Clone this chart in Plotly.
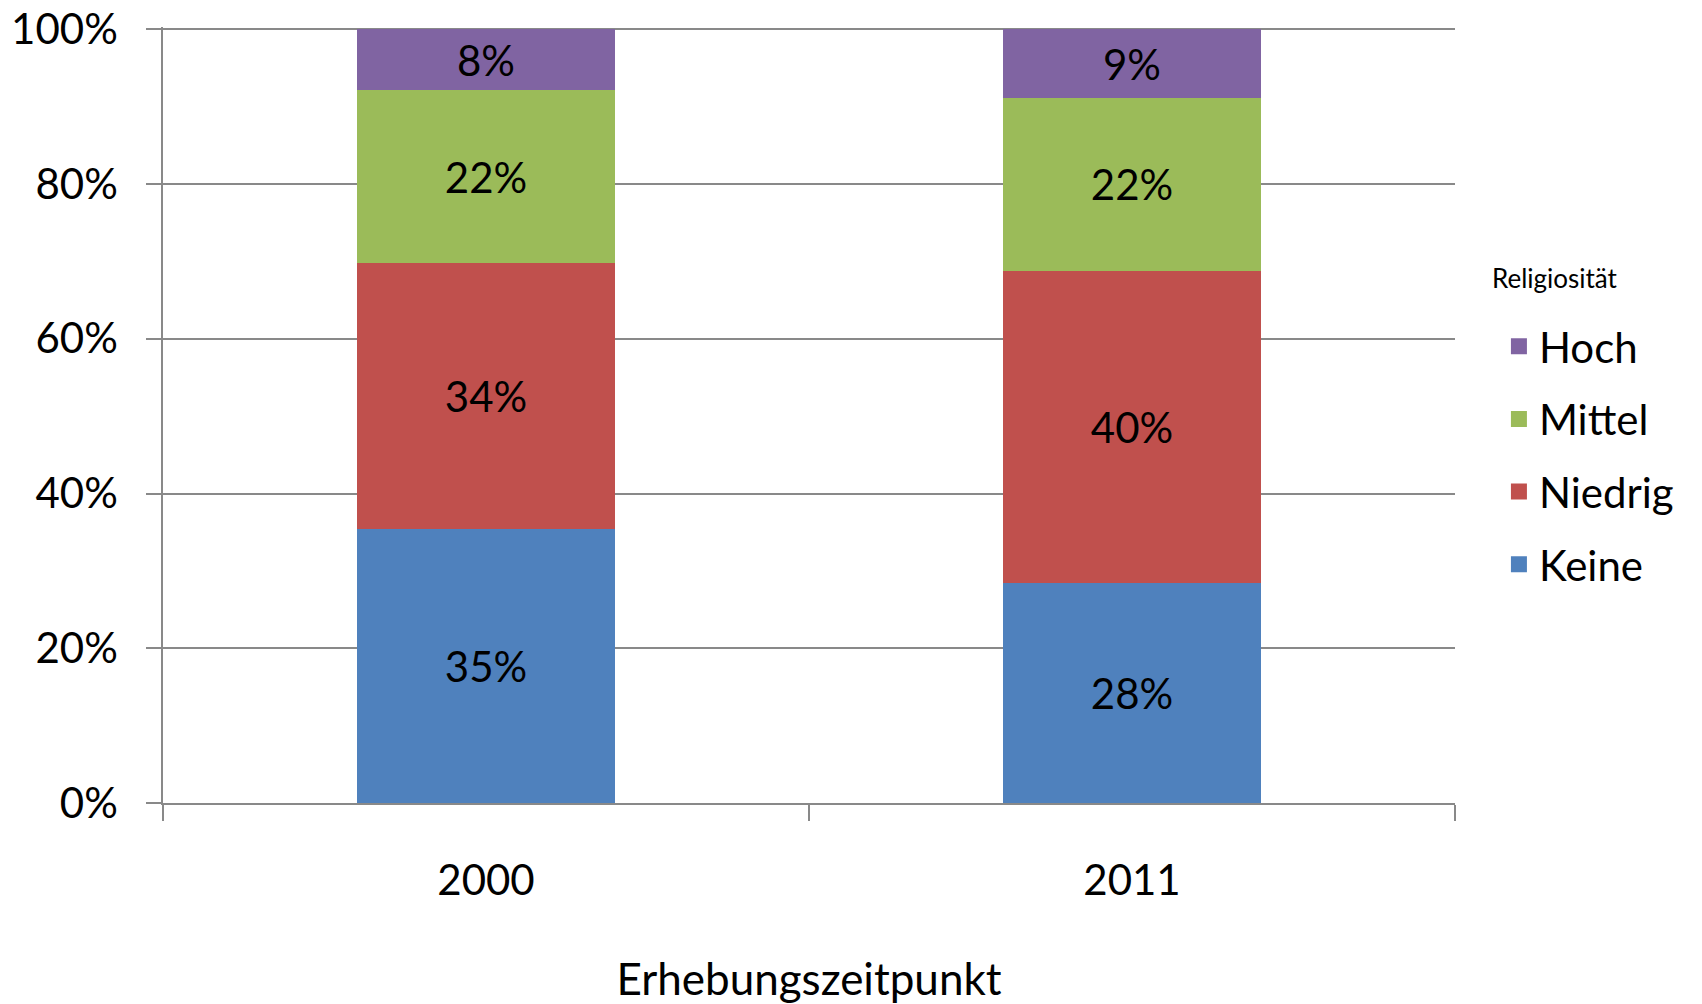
"""
Religiosität nach Erhebungszeitpunkt - gestapeltes 100%-Säulendiagramm
"""

import plotly.graph_objects as go

# Daten
jahre = ["2000", "2011"]
keine = [35.4, 28.4]
niedrig = [34.4, 40.4]
mittel = [22.3, 22.3]
hoch = [7.9, 8.9]

stufen = ["Keine", "Niedrig", "Mittel", "Hoch"]
werte = [keine, niedrig, mittel, hoch]
farben = ["#4F81BD", "#C0504D", "#9BBB59", "#8064A2"]

y_ticks = [0, 20, 40, 60, 80, 100]
y_ticktext = [f"{v}%" for v in y_ticks]

FONT = "Lato, Calibri, sans-serif"
GRAU = "#898989"

fig = go.Figure()

for name, vals, col in zip(stufen, werte, farben):
    fig.add_trace(go.Bar(
        x=jahre,
        y=vals,
        name=name,
        showlegend=False,
        marker=dict(color=col, line=dict(width=0)),
        texttemplate="%{y:.0f}%",
        textposition="inside",
        insidetextanchor="middle",
        textangle=0,
        constraintext="none",
        textfont=dict(color="black", size=42, family=FONT),
    ))

# Legende mit grösseren Quadraten (Hoch oben)
for name, col in reversed(list(zip(stufen, farben))):
    fig.add_trace(go.Scatter(
        x=[None], y=[None],
        mode="markers",
        name=name,
        legendgroup=name,
        marker=dict(symbol="square", size=16, color=col),
    ))

fig.add_annotation(
    text="Religiosität",
    xref="paper", yref="paper",
    x=1.027, y=0.676, xanchor="left", yanchor="middle",
    showarrow=False,
    font=dict(size=26),
)

# Seite hat 8px Rand -> Figur etwas kleiner, Ränder angepasst
fig.update_layout(
    width=1694,
    height=996,
    barmode="stack",
    bargap=0.6,
    plot_bgcolor="white",
    paper_bgcolor="white",
    font=dict(family=FONT, size=42, color="black"),
    margin=dict(l=155, r=247, t=19, b=201),
    uniformtext=dict(minsize=42, mode="show"),
    showlegend=True,
    legend=dict(
        traceorder="grouped",
        tracegroupgap=15,
        itemsizing="trace",
        font=dict(size=42),
        x=1.034, xanchor="left",
        y=0.632, yanchor="top",
        bgcolor="rgba(0,0,0,0)",
    ),
    xaxis=dict(
        type="category",
        automargin=False,
        showline=True, linecolor=GRAU, linewidth=1.5,
        ticks="outside", tickson="boundaries", ticklen=16, tickcolor=GRAU, tickwidth=1.5,
        ticklabelstandoff=40,
        showgrid=False,
        title=dict(text="Erhebungszeitpunkt", standoff=70, font=dict(size=44)),
    ),
    yaxis=dict(
        range=[0, 100.3],
        automargin=False,
        tickmode="array",
        tickvals=y_ticks,
        ticktext=y_ticktext,
        ticklabeloverflow="allow",
        showline=True, linecolor=GRAU, linewidth=1.5,
        ticks="outside", ticklen=15, tickcolor=GRAU, tickwidth=1.5,
        ticklabelstandoff=20,
        showgrid=True, gridcolor=GRAU, gridwidth=1.5,
        zeroline=False,
    ),
)

fig.write_html("out.html")
